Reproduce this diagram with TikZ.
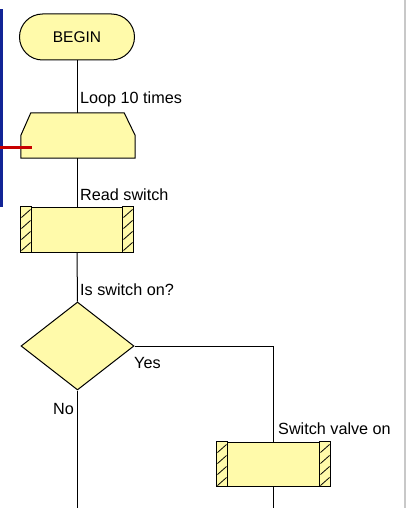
\documentclass[tikz,border=0pt]{standalone}
\usepackage{fontspec}
\setmainfont{Liberation Sans}
\usetikzlibrary{shapes.geometric,calc}
\definecolor{boxfill}{RGB}{255,250,170}
\definecolor{framenavy}{RGB}{18,36,150}
\definecolor{loopred}{RGB}{200,0,0}
\definecolor{edgegray}{RGB}{200,200,200}

% side bars of a macro (subroutine) box, with their diagonal hatching
\newcommand{\macrobars}[1]{%
  \draw[flow] (#1.north west) rectangle ($(#1.south west)+(11,0)$);
  \draw[flow] (#1.north east) rectangle ($(#1.south east)+(-11,0)$);
  \foreach \k in {0,...,3} {
    \draw[hatch] ($(#1.north west)+(1,11+\k*11)$) -- ($(#1.north west)+(10,3+\k*11)$);
    \draw[hatch] ($(#1.north east)+(-10,11+\k*11)$) -- ($(#1.north east)+(-1,3+\k*11)$);
  }%
}

\begin{document}
\begin{tikzpicture}[x=1pt,y=-1pt,
  flow/.style={draw=black, line width=1pt, fill=boxfill},
  hatch/.style={draw=black, line width=0.8pt},
  link/.style={draw=black, line width=1pt},
  txt/.style={font=\fontsize{15.5}{18}\selectfont},
  lbl/.style={font=\fontsize{16.2}{19}\selectfont, anchor=base west, inner sep=0},
  boxnode/.style={flow, inner sep=0, minimum width=#1, minimum height=45pt},
  ]
\useasboundingbox (0,0) rectangle (406,508);

% window frame pieces
\fill[framenavy] (0,9) rectangle (3,207);
\fill[edgegray] (404,0) rectangle (406,508);

% start terminal
\node[flow, txt, rounded corners=23pt, minimum width=115pt, minimum height=46pt, inner sep=0] (begin) at (77,37) {BEGIN};

% loop block (top corners cut off)
\node[inner sep=0, minimum width=114pt, minimum height=45pt] (loop) at (78,135.5) {};
\draw[flow] ($(loop.north west)+(10,0)$) -- ($(loop.north east)+(-11,0)$)
  -- (loop.east) -- (loop.south east) -- (loop.south west) -- (loop.west) -- cycle;
\draw[loopred, line width=3pt] (0,147.5) -- (32,147.5);

% read switch macro
\node[boxnode=112pt] (read) at (77,229.5) {};
\macrobars{read}

% decision
\node[diamond, flow, inner sep=0, minimum width=113pt, minimum height=88pt] (dec) at (77.5,346) {};

% switch valve macro
\node[boxnode=113pt, minimum height=44pt] (valve) at (273.5,464) {};
\macrobars{valve}

% open ends at the bottom
\coordinate (noend) at (77.5,508);
\coordinate (valveend) at (273.5,508);

% connectors
\draw[link] (begin.south) -- (begin.south |- loop.north);
\draw[link] (loop.south -| begin.south) -- (begin.south |- read.north);
\draw[link] (read.south) -- (dec.north);
\draw[link] (dec.east) -| (valve.north);
\draw[link] (dec.south) -- (noend);
\draw[link] (valve.south) -- (valveend);

% labels
\node[lbl] (lLoop) at (80,104) {Loop 10 times};
\node[lbl] (lRead) at (80,200.5) {Read switch};
\node[lbl] (lIs) at (80,295) {Is switch on?};
\node[lbl] (lYes) at (134,368) {Yes};
\node[lbl, anchor=base east] (lNo) at (74,414) {No};
\node[lbl] (lValve) at (278,434) {Switch valve on};
\end{tikzpicture}
\end{document}
